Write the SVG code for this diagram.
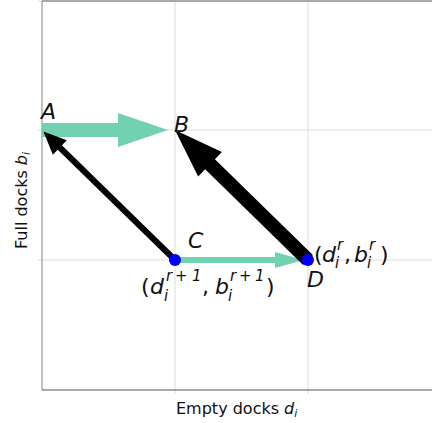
<svg xmlns="http://www.w3.org/2000/svg" width="432" height="423" viewBox="0 0 432 423">
<style>
.grid{stroke:#dcdcdc;stroke-width:1}
.tick{stroke:#dcdcdc;stroke-width:1}
.spine{stroke:#555;stroke-width:1.2}
.green{fill:#66CDAA;fill-opacity:0.92}
.black{fill:#000}
.dot{fill:#0000FF}
text{font-family:"DejaVu Sans",sans-serif;fill:#111}
.lab{font-size:22px;font-style:italic}
.m{font-size:22px}
.s{font-size:15px;font-style:italic}
.ax{font-size:16px}
</style>
<rect width="432" height="423" fill="#fff"/>
<g id="axes">
<line class="grid" x1="175" y1="1" x2="175" y2="390"/>
<line class="grid" x1="308" y1="1" x2="308" y2="390"/>
<line class="grid" x1="42" y1="130" x2="432" y2="130"/>
<line class="grid" x1="42" y1="260" x2="432" y2="260"/>
<line class="tick" x1="38" y1="1" x2="42" y2="1"/>
<line class="tick" x1="38" y1="130" x2="42" y2="130"/>
<line class="tick" x1="38" y1="260" x2="42" y2="260"/>
<line class="tick" x1="175" y1="390" x2="175" y2="394"/>
<line class="tick" x1="308" y1="390" x2="308" y2="394"/>
<line x1="42" y1="1" x2="42" y2="390" stroke="#999" stroke-width="1.2"/>
<line class="spine" x1="42" y1="1" x2="432" y2="1"/>
<line class="spine" x1="42" y1="390" x2="432" y2="390"/>
<text class="ax" x="176" y="414">Empty docks <tspan font-style="italic">d</tspan><tspan font-size="11" font-style="italic" dy="3">i</tspan></text>
<text class="ax" transform="translate(27,249) rotate(-90)">Full docks <tspan font-style="italic">b</tspan><tspan font-size="11" font-style="italic" dy="3">i</tspan></text>
</g>
<g id="connectors">
<polygon id="arrow-AB" class="green" points="42,123 118,123 118,113 168,130 118,147 118,137 42,137"/>
<polygon id="arrow-CD" class="green" points="175,257 275,257 275,252 304,260 275,268 275,263 175,263"/>
<polygon id="arrow-CA" class="black" transform="translate(175,260) rotate(-135.67)" points="0,-3 161,-3 161,-10 184,0 161,10 161,3 0,3"/>
<polygon id="arrow-DB" class="black" transform="translate(308,260) rotate(-135.65)" points="0,-7 137,-7 137,-17 186,0 137,17 137,7 0,7"/>
</g>
<g id="node-A"><text class="lab" x="41" y="119">A</text></g>
<g id="node-B"><text class="lab" x="174" y="132">B</text></g>
<g id="node-C">
<circle class="dot" cx="175" cy="260" r="6"/>
<text class="lab" x="188" y="248">C</text>
<text class="m" x="141" y="294">(</text>
<text class="m" x="150" y="294" font-style="italic">d</text>
<text class="s" x="164" y="301">i</text>
<text class="s" x="166" y="281">r</text>
<text class="s" x="175" y="281" font-style="normal">+</text>
<text class="s" x="192" y="281" font-style="normal">1</text>
<text class="m" x="202" y="294">,</text>
<text class="m" x="215" y="294" font-style="italic">b</text>
<text class="s" x="228" y="301">i</text>
<text class="s" x="230" y="281">r</text>
<text class="s" x="239" y="281" font-style="normal">+</text>
<text class="s" x="255" y="281" font-style="normal">1</text>
<text class="m" x="266" y="294">)</text>
</g>
<g id="node-D">
<circle class="dot" cx="308" cy="260" r="6"/>
<text class="lab" x="307" y="287">D</text>
<text class="m" x="314" y="262">(</text>
<text class="m" x="322" y="262" font-style="italic">d</text>
<text class="s" x="335" y="268">i</text>
<text class="s" x="337" y="250">r</text>
<text class="m" x="344" y="262">,</text>
<text class="m" x="354" y="262" font-style="italic">b</text>
<text class="s" x="367" y="268">i</text>
<text class="s" x="369" y="250">r</text>
<text class="m" x="380" y="262">)</text>
</g>
</svg>
